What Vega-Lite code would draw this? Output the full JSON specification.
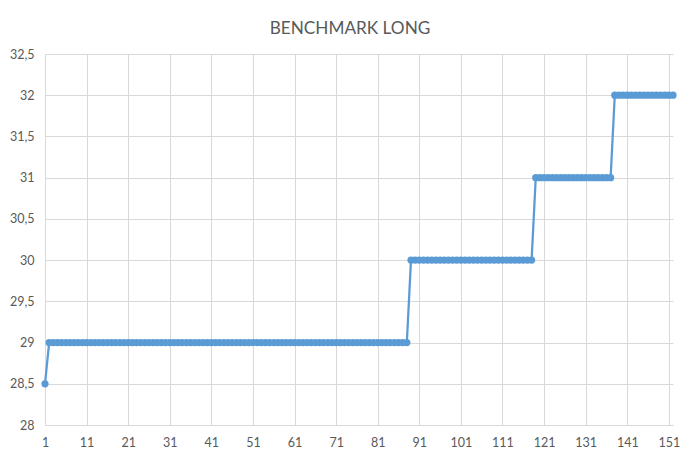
{
  "$schema": "https://vega.github.io/schema/vega-lite/v6.json",
  "description": "Benchmark long",
  "width": 628,
  "height": 371,
  "autosize": {"type": "none"},
  "padding": {"left": 45, "top": 54, "right": 27, "bottom": 35},
  "background": "white",
  "title": {
    "text": "BENCHMARK LONG",
    "anchor": "middle",
    "frame": "group",
    "dx": -9,
    "dy": 25,
    "offset": 22,
    "baseline": "alphabetic",
    "font": "Lato",
    "fontSize": 17.2,
    "fontWeight": "normal",
    "color": "#595959"
  },
  "data": {
    "values": [
      {"x": 1, "y": 28.5}, {"x": 2, "y": 29}, {"x": 3, "y": 29}, {"x": 4, "y": 29}, {"x": 5, "y": 29},
      {"x": 6, "y": 29}, {"x": 7, "y": 29}, {"x": 8, "y": 29}, {"x": 9, "y": 29}, {"x": 10, "y": 29},
      {"x": 11, "y": 29}, {"x": 12, "y": 29}, {"x": 13, "y": 29}, {"x": 14, "y": 29}, {"x": 15, "y": 29},
      {"x": 16, "y": 29}, {"x": 17, "y": 29}, {"x": 18, "y": 29}, {"x": 19, "y": 29}, {"x": 20, "y": 29},
      {"x": 21, "y": 29}, {"x": 22, "y": 29}, {"x": 23, "y": 29}, {"x": 24, "y": 29}, {"x": 25, "y": 29},
      {"x": 26, "y": 29}, {"x": 27, "y": 29}, {"x": 28, "y": 29}, {"x": 29, "y": 29}, {"x": 30, "y": 29},
      {"x": 31, "y": 29}, {"x": 32, "y": 29}, {"x": 33, "y": 29}, {"x": 34, "y": 29}, {"x": 35, "y": 29},
      {"x": 36, "y": 29}, {"x": 37, "y": 29}, {"x": 38, "y": 29}, {"x": 39, "y": 29}, {"x": 40, "y": 29},
      {"x": 41, "y": 29}, {"x": 42, "y": 29}, {"x": 43, "y": 29}, {"x": 44, "y": 29}, {"x": 45, "y": 29},
      {"x": 46, "y": 29}, {"x": 47, "y": 29}, {"x": 48, "y": 29}, {"x": 49, "y": 29}, {"x": 50, "y": 29},
      {"x": 51, "y": 29}, {"x": 52, "y": 29}, {"x": 53, "y": 29}, {"x": 54, "y": 29}, {"x": 55, "y": 29},
      {"x": 56, "y": 29}, {"x": 57, "y": 29}, {"x": 58, "y": 29}, {"x": 59, "y": 29}, {"x": 60, "y": 29},
      {"x": 61, "y": 29}, {"x": 62, "y": 29}, {"x": 63, "y": 29}, {"x": 64, "y": 29}, {"x": 65, "y": 29},
      {"x": 66, "y": 29}, {"x": 67, "y": 29}, {"x": 68, "y": 29}, {"x": 69, "y": 29}, {"x": 70, "y": 29},
      {"x": 71, "y": 29}, {"x": 72, "y": 29}, {"x": 73, "y": 29}, {"x": 74, "y": 29}, {"x": 75, "y": 29},
      {"x": 76, "y": 29}, {"x": 77, "y": 29}, {"x": 78, "y": 29}, {"x": 79, "y": 29}, {"x": 80, "y": 29},
      {"x": 81, "y": 29}, {"x": 82, "y": 29}, {"x": 83, "y": 29}, {"x": 84, "y": 29}, {"x": 85, "y": 29},
      {"x": 86, "y": 29}, {"x": 87, "y": 29}, {"x": 88, "y": 29}, {"x": 89, "y": 30}, {"x": 90, "y": 30},
      {"x": 91, "y": 30}, {"x": 92, "y": 30}, {"x": 93, "y": 30}, {"x": 94, "y": 30}, {"x": 95, "y": 30},
      {"x": 96, "y": 30}, {"x": 97, "y": 30}, {"x": 98, "y": 30}, {"x": 99, "y": 30}, {"x": 100, "y": 30},
      {"x": 101, "y": 30}, {"x": 102, "y": 30}, {"x": 103, "y": 30}, {"x": 104, "y": 30}, {"x": 105, "y": 30},
      {"x": 106, "y": 30}, {"x": 107, "y": 30}, {"x": 108, "y": 30}, {"x": 109, "y": 30}, {"x": 110, "y": 30},
      {"x": 111, "y": 30}, {"x": 112, "y": 30}, {"x": 113, "y": 30}, {"x": 114, "y": 30}, {"x": 115, "y": 30},
      {"x": 116, "y": 30}, {"x": 117, "y": 30}, {"x": 118, "y": 30}, {"x": 119, "y": 31}, {"x": 120, "y": 31},
      {"x": 121, "y": 31}, {"x": 122, "y": 31}, {"x": 123, "y": 31}, {"x": 124, "y": 31}, {"x": 125, "y": 31},
      {"x": 126, "y": 31}, {"x": 127, "y": 31}, {"x": 128, "y": 31}, {"x": 129, "y": 31}, {"x": 130, "y": 31},
      {"x": 131, "y": 31}, {"x": 132, "y": 31}, {"x": 133, "y": 31}, {"x": 134, "y": 31}, {"x": 135, "y": 31},
      {"x": 136, "y": 31}, {"x": 137, "y": 31}, {"x": 138, "y": 32}, {"x": 139, "y": 32}, {"x": 140, "y": 32},
      {"x": 141, "y": 32}, {"x": 142, "y": 32}, {"x": 143, "y": 32}, {"x": 144, "y": 32}, {"x": 145, "y": 32},
      {"x": 146, "y": 32}, {"x": 147, "y": 32}, {"x": 148, "y": 32}, {"x": 149, "y": 32}, {"x": 150, "y": 32},
      {"x": 151, "y": 32}, {"x": 152, "y": 32}
    ]
  },
  "mark": {
    "type": "line",
    "color": "#5B9BD5",
    "strokeWidth": 2.25,
    "point": {"filled": true, "size": 52, "color": "#5B9BD5"}
  },
  "encoding": {
    "x": {
      "field": "x",
      "type": "quantitative",
      "scale": {"domain": [1, 152], "nice": false, "zero": false},
      "axis": {
        "title": null,
        "values": [1, 11, 21, 31, 41, 51, 61, 71, 81, 91, 101, 111, 121, 131, 141, 151],
        "format": "d",
        "labelPadding": 11,
        "labelFlush": false
      }
    },
    "y": {
      "field": "y",
      "type": "quantitative",
      "scale": {"domain": [28, 32.5], "nice": false, "zero": false},
      "axis": {
        "title": null,
        "values": [28, 28.5, 29, 29.5, 30, 30.5, 31, 31.5, 32, 32.5],
        "format": "~g",
        "labelPadding": 11,
        "domain": false
      }
    }
  },
  "config": {
    "locale": {
      "number": {"decimal": ",", "thousands": ".", "grouping": [3], "currency": ["", " €"]}
    },
    "view": {"stroke": null},
    "axis": {
      "labelFont": "Lato",
      "labelFontSize": 12.5,
      "labelColor": "#595959",
      "gridColor": "#D9D9D9",
      "gridWidth": 1,
      "domainColor": "#D9D9D9",
      "domainWidth": 1,
      "ticks": false
    }
  }
}
